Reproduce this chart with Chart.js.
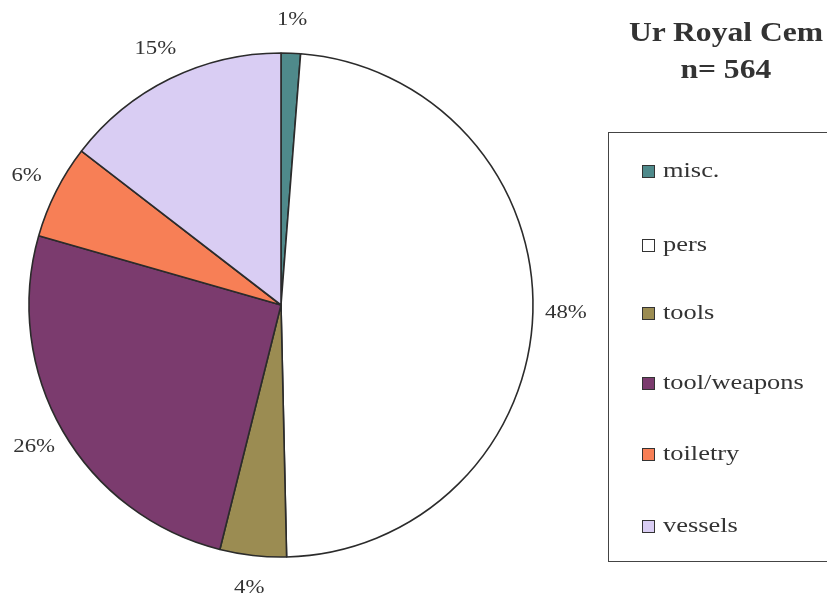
<!DOCTYPE html>
<html>
<head>
<meta charset="utf-8">
<script src="https://cdn.jsdelivr.net/npm/chart.js@4"></script>
<style>
  html, body { margin:0; padding:0; background:#fff; }
  #wrap { position:relative; width:827px; height:595px; overflow:hidden; }
  #c { position:absolute; left:0; top:0; }
  .title { position:absolute; left:626px; width:200px; text-align:center; font-family:"Liberation Serif", serif; font-weight:bold; color:#333; font-size:27px; white-space:nowrap; }
  .title span { display:inline-block; transform:scaleX(1.17); }
  #legend { position:absolute; left:608px; top:132px; width:260px; height:430px; border:1.5px solid #444; box-sizing:border-box; }
  .item { position:absolute; left:33px; height:24px; font-family:"Liberation Serif", serif; font-size:22px; color:#333; white-space:nowrap; }
  .sw { position:absolute; left:0; top:5px; width:11px; height:11px; border:1.5px solid #333; }
  .lt { position:absolute; left:21px; top:-3px; transform:scaleX(1.2); transform-origin:left center; }
</style>
</head>
<body>
<div id="wrap">
  <canvas id="c" width="827" height="595"></canvas>
  <div class="title" style="top:17px;"><span>Ur Royal Cem</span></div>
  <div class="title" style="top:54px;"><span>n= 564</span></div>
  <div id="legend"></div>
</div>
<script>
const categories = ['misc.', 'pers', 'tools', 'tool/weapons', 'toiletry', 'vessels'];
const counts = [7, 273, 24, 144, 34, 82];
const colors = ['#4F8A8B', '#FFFFFF', '#9B8C52', '#7B3B6E', '#F77F56', '#D9CDF3'];
const legendRowTops = [27, 101, 169, 239, 310, 382];

const total = counts.reduce((a, b) => a + b, 0);

// HTML legend built from the arrays
const legend = document.getElementById('legend');
categories.forEach((name, i) => {
  const it = document.createElement('div');
  it.className = 'item';
  it.style.top = legendRowTops[i] + 'px';
  const sw = document.createElement('div');
  sw.className = 'sw';
  sw.style.background = colors[i];
  const t = document.createElement('span');
  t.className = 'lt';
  t.textContent = name;
  it.appendChild(sw);
  it.appendChild(t);
  legend.appendChild(it);
});

const outsideLabels = {
  id: 'outsideLabels',
  afterDatasetsDraw(chart) {
    const ctx = chart.ctx;
    const meta = chart.getDatasetMeta(0);
    ctx.save();
    ctx.font = '19px "Liberation Serif", serif';
    ctx.fillStyle = '#333';
    ctx.textAlign = 'center';
    ctx.textBaseline = 'middle';
    meta.data.forEach((arc, i) => {
      const mid = (arc.startAngle + arc.endAngle) / 2;
      const rr = arc.outerRadius + 33;
      const x = arc.x + Math.cos(mid) * rr;
      const y = arc.y + Math.sin(mid) * rr;
      const txt = Math.round(counts[i] / total * 100) + '%';
      ctx.save();
      ctx.translate(x, y);
      ctx.scale(1.2, 1);
      ctx.fillText(txt, 0, 0);
      ctx.restore();
    });
    ctx.restore();
  }
};

new Chart(document.getElementById('c'), {
  type: 'pie',
  data: {
    labels: categories,
    datasets: [{
      data: counts,
      backgroundColor: colors,
      borderColor: '#2b2b2b',
      borderWidth: 1.6
    }]
  },
  options: {
    responsive: false,
    animation: false,
    events: [],
    radius: 252,
    layout: { padding: { left: 20, right: 285, top: 30, bottom: 15 } },
    plugins: {
      legend: { display: false },
      tooltip: { enabled: false },
      title: { display: false }
    }
  },
  plugins: [outsideLabels]
});
</script>
</body>
</html>
